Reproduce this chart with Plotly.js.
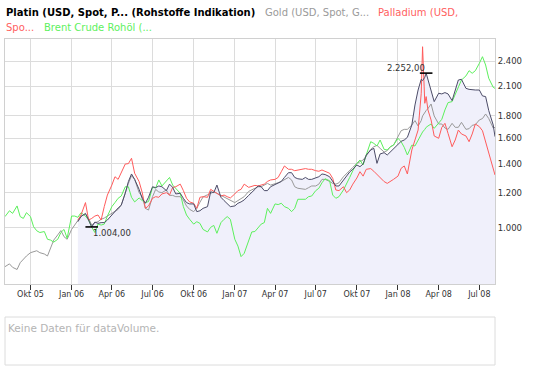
<!DOCTYPE html>
<html><head><meta charset="utf-8">
<script src="https://cdn.plot.ly/plotly-3.0.1.min.js"></script>
<style>html,body{margin:0;padding:0;background:#fff;}#chart{width:545px;height:370px;}</style>
</head><body><div id="chart"></div>
<script>
// sampling dates (shared by all series)
const dates = [
'2005-08-05','2005-08-15','2005-08-22','2005-09-01','2005-09-08','2005-09-15','2005-09-22','2005-10-01','2005-10-08','2005-10-15','2005-10-22','2005-11-01','2005-11-08','2005-11-15','2005-11-22','2005-12-01','2005-12-08','2005-12-15','2005-12-22',
'2006-01-01','2006-01-08','2006-01-15','2006-01-22','2006-02-01','2006-02-08','2006-02-15','2006-02-22','2006-03-01','2006-03-08','2006-03-15','2006-03-22','2006-04-01','2006-04-08','2006-04-15','2006-04-22','2006-05-01','2006-05-08','2006-05-15','2006-05-22','2006-06-01','2006-06-08','2006-06-15','2006-06-22','2006-07-01','2006-07-08','2006-07-15','2006-07-22','2006-08-01','2006-08-08','2006-08-15','2006-08-22','2006-09-01','2006-09-08','2006-09-15','2006-09-22','2006-10-01','2006-10-08','2006-10-15','2006-10-22','2006-11-01','2006-11-08','2006-11-15','2006-11-22','2006-12-01','2006-12-08','2006-12-15','2006-12-22',
'2007-01-01','2007-01-08','2007-01-15','2007-01-22','2007-02-01','2007-02-08','2007-02-15','2007-02-22','2007-03-01','2007-03-08','2007-03-15','2007-03-22','2007-04-01','2007-04-08','2007-04-15','2007-04-22','2007-05-01','2007-05-08','2007-05-15','2007-05-22','2007-06-01','2007-06-08','2007-06-15','2007-06-22','2007-07-01','2007-07-08','2007-07-15','2007-07-22','2007-08-01','2007-08-08','2007-08-15','2007-08-22','2007-09-01','2007-09-08','2007-09-15','2007-09-22','2007-10-01','2007-10-08','2007-10-15','2007-10-22','2007-11-01','2007-11-08','2007-11-15','2007-11-22','2007-12-01','2007-12-08','2007-12-15','2007-12-22',
'2008-01-01','2008-01-08','2008-01-15','2008-01-22','2008-02-01','2008-02-08','2008-02-15','2008-02-22','2008-02-25','2008-03-01','2008-03-04','2008-03-08','2008-03-15','2008-03-22','2008-04-01','2008-04-08','2008-04-15','2008-04-22','2008-05-01','2008-05-08','2008-05-15','2008-05-22','2008-06-01','2008-06-08','2008-06-15','2008-06-22','2008-07-01','2008-07-08','2008-07-15','2008-07-22','2008-08-01','2008-08-05'
];
const platinStart = '2006-01-15';

const gold = [
815,827,812,803,832,847,862,877,883,886,877,871,862,898,937,963,985,954,941,
991,1014,1041,1063, 1074,1050,1014,1027, 1032,1045,1052,1063, 1082,1089,1101,1127, 1208,1262,1314,1289, 1202,1177,1107,1097, 1177,1223,1206,1202, 1219,1185,1185,1177, 1177,1157,1121,1101, 1088,1107,1143,1175, 1189,1198,1206,1198, 1185,1175,1165,1153,
1141,1153,1165,1177, 1210,1219,1232,1240, 1240,1249,1262,1251, 1257,1266,1275,1289, 1302,1285,1240,1230, 1228,1223,1234,1245, 1245,1257,1289,1289, 1275,1262,1257,1266, 1307,1331,1352,1373, 1402,1415,1427,1457, 1509,1530,1541,1517, 1488,1499,1530,1543,
1607,1664,1676,1676, 1715,1755,1706,1755,1798, 1839,1850,1869,1915,1798, 1724,1724,1688,1676, 1730,1694,1694,1739, 1676,1682,1712,1718, 1761,1774,1817,1774, 1688,1694
];

const platin = [
1032,1060, 1078,1038,1004,1030, 1023,1027,1027,1041, 1071,1093,1109,1125, 1198,1274,1326,1289, 1223,1165,1137,1173, 1240,1234,1245,1240, 1215,1257,1236,1194, 1198,1167,1141,1133, 1133,1088,1093,1107, 1117,1208,1202,1251, 1173,1153,1137,1117,
1121,1137,1145,1157, 1185,1202,1223,1245, 1240,1215,1215,1240, 1253,1262,1275,1302, 1335,1335,1302,1293, 1289,1302,1289,1289, 1302,1307,1326,1322, 1307,1275,1245,1245, 1285,1307,1340,1359, 1390,1378,1397,1465, 1504,1517,1402,1473, 1483,1465,1488,1517,
1552,1574,1585,1607, 1715,1905,2061,2180,2165, 2203,2252,2172,2068,1939, 2026,2019,2033,2019, 1949,2061,2172,2180, 2079,2068,2061,2061, 2061,1998,1991,1850, 1715,1613
];

const palladium = [
1041,1069, 1141,1041,1050,1063, 1069,1041,1117,1187, 1251,1307,1289,1335, 1397,1400,1440,1331, 1274,1202,1107,1121, 1167,1177,1173,1194, 1202,1187,1236,1240, 1257,1215,1167,1145, 1137,1107,1173,1177, 1173,1223,1208,1198, 1181,1187,1177,1169,
1194,1215,1223,1257, 1236,1245,1249,1245, 1249,1257,1275,1285, 1289,1302,1342,1383, 1359,1359,1349,1354, 1359,1364,1359,1359, 1349,1345,1354,1345, 1331,1296,1219,1215, 1240,1202,1219,1257, 1298,1342,1311,1359, 1364,1345,1322,1296, 1274,1262,1274,1289,
1311,1366,1383,1326, 1504,1585,1670,2026,2587, 1922,1991,1856,1761,1619, 1599,1694,1730,1641, 1530,1585,1670,1636, 1619,1571,1636,1724, 1700,1664,1571,1465, 1366,1319
];

const brent = [
1060,1093,1078,1121,1060,1050,1082,1060,1005,984,975,980,941,937,927,941,975,991,946,
1063,1063,1056,1082, 1063,1041,1002,975, 1019,1014,1019,1063, 1117,1141,1167,1181, 1240,1240,1173,1145, 1169,1153,1141,1147, 1236,1232,1285,1245, 1280,1302,1251,1230, 1198,1117,1069,1045, 1019,1032,1023,991, 978,1002,1012,971, 1027,1045,1060,1045,
941,908,859,874, 934,978,980,997, 1019,1027,1107,1078, 1133,1129,1137,1117, 1107,1088,1107,1161, 1161,1161,1177,1181, 1215,1230,1266,1293, 1280,1187,1167,1177, 1219,1257,1302,1349, 1402,1427,1390,1465, 1571,1557,1536,1585, 1509,1504,1530,1543,
1599,1571,1525,1465, 1543,1536,1585,1630,1653, 1676,1694,1706,1724,1685, 1730,1767,1856,1929, 1939,2008,2079,2172, 2219,2281,2250,2281, 2371,2455,2350,2192, 2090,2079
];

const quarterTicks = ['2005-10-01','2006-01-01','2006-04-01','2006-07-01','2006-10-01','2007-01-01','2007-04-01','2007-07-01','2007-10-01','2008-01-01','2008-04-01','2008-07-01'];
const quarterLabels = ['Okt 05','Jan 06','Apr 06','Jul 06','Okt 06','Jan 07','Apr 07','Jul 07','Okt 07','Jan 08','Apr 08','Jul 08'];
const yTicks = [1000,1200,1400,1600,1800,2100,2400];
const yLabels = ['1.000','1.200','1.400','1.600','1.800','2.100','2.400'];
const names = ['Platin (USD, Spot, P... (Rohstoffe Indikation)','Gold (USD, Spot, G...','Palladium (USD,','Spo...','Brent Crude Rohöl (...'];

const FONT = 'DejaVu Sans, Verdana, sans-serif';
const C_PLAT = '#4c4c68', C_GOLD = '#999999', C_PALL = '#ff5b5b', C_BRENT = '#5cf05c';

const pmDates = dates.slice(dates.indexOf(platinStart));
function deFmt(v){
  const s = v.toFixed(2).split('.');
  return s[0].replace(/\B(?=(\d{3})+(?!\d))/g,'.') + ',' + s[1];
}
let iMin = 0, iMax = 0;
platin.forEach((v,i)=>{ if(v<platin[iMin]) iMin=i; if(v>platin[iMax]) iMax=i; });

const traces = [
  {x: pmDates, y: platin, mode:'lines', line:{width:0, color:C_PLAT}, fill:'tozeroy', fillcolor:'rgb(240,240,251)', hoverinfo:'skip'},
  {x: dates, y: gold, mode:'lines', line:{width:1, color:C_GOLD}},
  {x: dates, y: brent, mode:'lines', line:{width:1, color:C_BRENT}},
  {x: pmDates, y: palladium, mode:'lines', line:{width:1, color:C_PALL}},
  {x: pmDates, y: platin, mode:'lines', line:{width:1, color:C_PLAT}},
  {x: [pmDates[iMin], pmDates[iMax]], y: [platin[iMin], platin[iMax]], mode:'markers',
   marker:{symbol:'line-ew', size:9, line:{width:1.6, color:'#000'}}}
];

// pixel helpers for paper coordinates (plot area 5..495 x 39..284)
const px = x => (x-5)/490, py = y => (284-y)/245;

const annotations = [
  {xref:'paper', yref:'paper', x:px(5), y:py(12.3), xanchor:'left', yanchor:'middle', showarrow:false, borderpad:0,
   text:'<b>'+names[0]+'</b>', font:{family:FONT, size:10, color:'#000'}},
  {xref:'paper', yref:'paper', x:px(264), y:py(12.3), xanchor:'left', yanchor:'middle', showarrow:false, borderpad:0,
   text:names[1], font:{family:FONT, size:10, color:'#9a9a9a'}},
  {xref:'paper', yref:'paper', x:px(377), y:py(12.3), xanchor:'left', yanchor:'middle', showarrow:false, borderpad:0,
   text:names[2], font:{family:FONT, size:10, color:'#ff5f5f'}},
  {xref:'paper', yref:'paper', x:px(5), y:py(27.7), xanchor:'left', yanchor:'middle', showarrow:false, borderpad:0,
   text:names[3], font:{family:FONT, size:10, color:'#ff5f5f'}},
  {xref:'paper', yref:'paper', x:px(43), y:py(27.7), xanchor:'left', yanchor:'middle', showarrow:false, borderpad:0,
   text:names[4], font:{family:FONT, size:10, color:'#5ef05e'}},
  {x: pmDates[iMin], y: Math.log10(platin[iMin]), xanchor:'left', yanchor:'top', showarrow:false, borderpad:0, xshift:0, yshift:0,
   text: deFmt(platin[iMin]), font:{family:FONT, size:8.5, color:'#333'}},
  {x: pmDates[iMax], y: Math.log10(platin[iMax]), xanchor:'right', yanchor:'bottom', showarrow:false, borderpad:0, xshift:0, yshift:-1,
   text: deFmt(platin[iMax]), font:{family:FONT, size:8.5, color:'#333'}},
  {xref:'paper', yref:'paper', x:px(7), y:py(328.3), xanchor:'left', yanchor:'middle', showarrow:false, borderpad:0,
   text:'Keine Daten für dataVolume.', font:{family:FONT, size:10.5, color:'#b4b4b4'}}
];

const shapes = [
  {type:'rect', xref:'paper', yref:'paper', x0:px(5), x1:px(495), y0:py(365), y1:py(317), line:{color:'#dcdcdc', width:1}}
];

const layout = {
  width:545, height:370, autosize:false,
  margin:{l:5, r:50, t:39, b:86, pad:0},
  paper_bgcolor:'#fff', plot_bgcolor:'#fff',
  showlegend:false,
  font:{family:FONT, size:8, color:'#333'},
  xaxis:{type:'date', range:['2005-08-05','2008-08-05'], tickmode:'array', tickvals:quarterTicks, ticktext:quarterLabels,
         showgrid:true, gridcolor:'#dcdcdc', gridwidth:1, ticks:'outside', ticklen:5, tickcolor:'#333', tickwidth:1,
         ticklabelstandoff:-3,
         tickfont:{family:FONT, size:8, color:'#333'}, showline:true, linecolor:'#d0d0d0', mirror:true, zeroline:false},
  yaxis:{type:'log', side:'right', range:[Math.log10(744), Math.log10(2694)], tickmode:'array', tickvals:yTicks, ticktext:yLabels,
         showgrid:true, gridcolor:'#dcdcdc', gridwidth:1, ticks:'', tickfont:{family:FONT, size:8.5, color:'#333'},
         showline:true, linecolor:'#d0d0d0', mirror:true, zeroline:false},
  annotations, shapes
};

Plotly.newPlot('chart', traces, layout, {staticPlot:true, displayModeBar:false});
</script></body></html>
